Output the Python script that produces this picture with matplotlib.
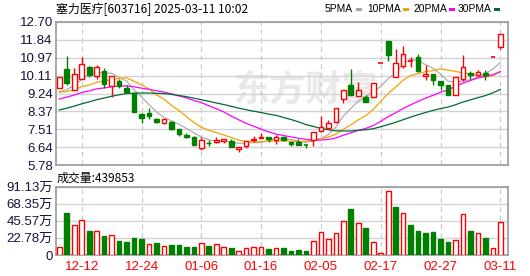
import matplotlib
matplotlib.use('Agg')
import matplotlib.pyplot as plt
import numpy as np
import pandas as pd
from matplotlib.patches import Rectangle

plt.rcParams['font.family'] = ['Noto Sans CJK SC', 'DejaVu Sans']

# ---------------- data ----------------
dates = ['12-09', '12-10', '12-11', '12-12', '12-13', '12-16', '12-17', '12-18', '12-19', '12-20',
         '12-23', '12-24', '12-25', '12-26', '12-27', '12-30', '12-31', '01-02', '01-03', '01-06',
         '01-07', '01-08', '01-09', '01-10', '01-13', '01-14', '01-15', '01-16', '01-17', '01-20',
         '01-21', '01-22', '01-23', '01-24', '01-27', '02-05', '02-06', '02-07', '02-10', '02-11',
         '02-12', '02-13', '02-14', '02-17', '02-18', '02-19', '02-20', '02-21', '02-24', '02-25',
         '02-26', '02-27', '02-28', '03-03', '03-04', '03-05', '03-06', '03-07', '03-10', '03-11']

opens = [9.53, 10.415, 9.42, 9.96, 10.53, 10.077, 10.32, 9.59, 9.84, 9.51,
         9.27, 8.24, 8.31, 8.017, 7.824, 7.87, 7.52, 7.23, 7.13, 6.62,
         6.86, 6.87, 6.94, 6.94, 6.55, 6.71, 7.00, 7.10, 7.15, 7.00,
         7.15, 6.87, 6.87, 6.76, 6.97, 7.41, 7.55, 7.84, 8.95, 9.64,
         9.11, 9.08, 9.05, 10.71, 11.77, 10.03, 10.56, 10.79, 11.03, 10.09,
         10.16, 9.85, 9.67, 9.16, 9.96, 10.21, 10.13, 10.21, 11.02, 11.49]
closes = [10.04, 9.755, 10.17, 10.66, 10.125, 10.51, 9.72, 10.09, 9.61, 9.30,
          8.355, 8.07, 8.16, 7.84, 7.985, 7.53, 7.26, 7.13, 6.76, 6.99,
          6.84, 6.99, 7.02, 6.63, 6.64, 6.95, 7.04, 7.15, 7.02, 7.12,
          6.99, 6.78, 6.77, 6.74, 7.37, 7.60, 7.79, 8.56, 9.43, 9.19,
          9.40, 8.84, 9.74, 10.71, 11.12, 10.74, 11.14, 10.80, 10.32, 10.19,
          9.87, 9.67, 9.16, 10.03, 10.53, 10.13, 10.27, 10.13, 11.02, 12.14]
highs = [10.05, 11.06, 10.48, 11.03, 10.59, 10.62, 10.45, 10.09, 9.96, 9.67,
         9.27, 8.32, 8.55, 8.04, 7.985, 7.90, 7.52, 7.34, 7.18, 7.15,
         6.99, 7.12, 7.02, 7.02, 6.66, 6.95, 7.18, 7.31, 7.15, 7.23,
         7.20, 6.91, 7.03, 6.76, 7.37, 8.16, 7.95, 8.56, 9.43, 10.41,
         9.80, 9.19, 9.74, 10.72, 11.77, 11.41, 11.54, 11.01, 11.14, 10.64,
         10.16, 9.85, 9.67, 10.03, 11.09, 10.32, 10.40, 10.40, 11.02, 12.14]
lows = [9.52, 9.64, 9.42, 9.96, 10.04, 9.93, 9.51, 9.05, 9.53, 9.27,
        8.355, 7.79, 8.03, 7.81, 7.74, 7.49, 7.20, 7.07, 6.745, 6.49,
        6.71, 6.83, 6.83, 6.63, 6.42, 6.62, 6.91, 7.07, 6.91, 6.79,
        6.95, 6.71, 6.75, 6.62, 6.71, 7.39, 7.52, 7.79, 8.79, 9.19,
        9.11, 8.84, 9.05, 10.71, 10.83, 10.03, 10.46, 10.50, 10.29, 9.88,
        9.67, 9.40, 9.16, 9.16, 9.84, 9.96, 10.09, 9.88, 11.02, 11.38]
volumes = [10.3, 56.2, 39.8, 46.3, 31.9, 31.9, 25.2, 26.1, 18.5, 17.2,
           22.5, 21.1, 14.4, 15.8, 11.6, 13.1, 13.1, 10.5, 11.2, 15.8,
           11.8, 14.0, 10.1, 9.2, 5.0, 8.9, 10.1, 10.1, 7.7, 9.9,
           9.0, 5.9, 7.2, 5.9, 18.5, 30.3, 20.8, 29.4, 45.2, 61.3,
           42.3, 35.5, 16.7, 2.7, 85.0, 64.0, 55.6, 40.0, 32.0, 29.5,
           30.6, 21.2, 17.2, 19.6, 54.5, 31.7, 29.2, 22.5, 8.7, 43.9853]
# closes before the visible window (estimated from the MA lines at the left edge)
hist_closes = [7.1, 7.2, 7.3, 7.25, 7.35, 7.4, 7.5, 7.45, 7.55, 7.7,
               7.9, 8.1, 8.3, 8.5, 8.6, 8.8, 8.9, 9.0, 9.1, 9.24,
               9.4, 9.3, 9.2, 9.3, 9.2, 9.2, 9.15, 9.25, 8.96]

ma_periods = [5, 10, 20, 30]
ma_names = ['5PMA', '10PMA', '20PMA', '30PMA']
ma_colors = ['#a6a6a6', '#f5a300', '#ff00ff', '#006b34']

price_ticks = [5.78, 6.64, 7.51, 8.37, 9.24, 10.11, 10.97, 11.84, 12.70]
vol_ticks = [0, 22.78, 45.57, 68.35, 91.13]
vol_tick_labels = ['0', '22.78万', '45.57万', '68.35万', '91.13万']
xtick_labels = ['12-12', '12-24', '01-06', '01-16', '02-05', '02-17', '02-27', '03-11']

title = '塞力医疗[603716] 2025-03-11 10:02'
vol_title = '成交量:439853'

RED = '#ff0000'
GREEN = '#008000'

# ---------------- figure ----------------
W, H = 530, 276
fig = plt.figure(figsize=(W / 100, H / 100), dpi=100)
fig.patch.set_facecolor('white')

def frac_box(l, t, r, b):
    return [l / W, 1 - b / H, (r - l) / W, (b - t) / H]

ax = fig.add_axes(frac_box(55.5, 22, 508, 165))
axv = fig.add_axes(frac_box(55.5, 186.5, 508, 255))

n = len(closes)
x = np.arange(n)
all_closes = pd.Series(hist_closes + closes)
mas = [all_closes.rolling(p).mean().to_numpy()[-n:] for p in ma_periods]
prev_close = all_closes.shift(1).to_numpy()[-n:]

bw = 0.62
for i in range(n):
    o, c, h, l = opens[i], closes[i], highs[i], lows[i]
    up = c >= o
    col = RED if up else GREEN
    ax.vlines(x[i], l, h, color=col, lw=1.0, zorder=3)
    lo, hi = min(o, c), max(o, c)
    if hi - lo < 0.02:
        ax.hlines((o + c) / 2, x[i] - bw / 2, x[i] + bw / 2, color=col, lw=1.2, zorder=4)
    else:
        ax.add_patch(Rectangle((x[i] - bw / 2, lo), bw, hi - lo,
                               facecolor='white' if up else col, edgecolor=col,
                               lw=1.0, zorder=4))

for m, col, lw in zip(mas, ma_colors, [0.8, 0.9, 0.9, 0.9]):
    ax.plot(x, m, color=col, lw=lw, zorder=2.5)

for i in range(n):
    vup = closes[i] >= prev_close[i]
    col = RED if vup else GREEN
    axv.add_patch(Rectangle((x[i] - bw / 2, 0), bw, volumes[i],
                            facecolor='white' if vup else col, edgecolor=col,
                            lw=1.0, zorder=3))

# watermark
ax.text(0.555, 0.525, '东方财富', transform=ax.transAxes, ha='center', va='center',
        fontsize=26, fontweight='bold', color='#e9e9e9', zorder=0.5)

xlim = (-0.51, 60.03)
xt = [dates.index(d) for d in xtick_labels]
for a, yt, ylim in ((ax, price_ticks, (5.78, 12.70)), (axv, vol_ticks, (0, 91.13))):
    a.set_xlim(*xlim)
    a.set_ylim(*ylim)
    a.set_yticks(yt)
    a.set_xticks(xt)
    a.tick_params(length=0)
    a.grid(axis='y', color='#d4d4d4', lw=1.0, zorder=1)
    for xx in xt:
        a.axvline(xx, color='#cccccc', lw=0.9, ls=(0, (4, 3)), zorder=1)
    for s in a.spines.values():
        s.set_color('#999999')
        s.set_linewidth(1.2)
    a.set_axisbelow(True)

ax.set_yticklabels([f'{v:.2f}' for v in price_ticks], family=['Liberation Sans', 'Noto Sans CJK SC'],
                   fontsize=9.5, color='#14143c')
ax.set_xticklabels([])
axv.set_yticklabels(vol_tick_labels, family=['Liberation Sans', 'Noto Sans CJK SC'],
                    fontsize=9.5, color='#14143c')
axv.set_xticklabels(xtick_labels, family=['Liberation Sans'], fontsize=9.5, color=RED)
ax.tick_params(axis='y', pad=2)
axv.tick_params(axis='y', pad=2)
axv.tick_params(axis='x', pad=4)

# titles
fig.text(56 / W, 1 - 9.5 / H, title, ha='left', va='center', fontsize=8.6, color='black')
fig.text(57 / W, 1 - 178 / H, vol_title, ha='left', va='center', fontsize=8.6, color='black')

# legend: text followed by a small colour square
renderer = fig.canvas.get_renderer()
leg_x = [325, 367, 413, 458]
for lx, name, col in zip(leg_x, ma_names, ma_colors):
    t = fig.text(lx / W, 1 - 9.5 / H, name, ha='left', va='center', fontsize=7.4,
                 family=['Liberation Sans'], color='black')
    ext = t.get_window_extent(renderer)
    sx = ext.x1 + 2.5
    fig.patches.append(Rectangle((sx / W, 1 - 11 / H), 6 / W, 3.5 / H, transform=fig.transFigure,
                                 facecolor=col, edgecolor='none'))

fig.savefig('out.png', dpi=100)
